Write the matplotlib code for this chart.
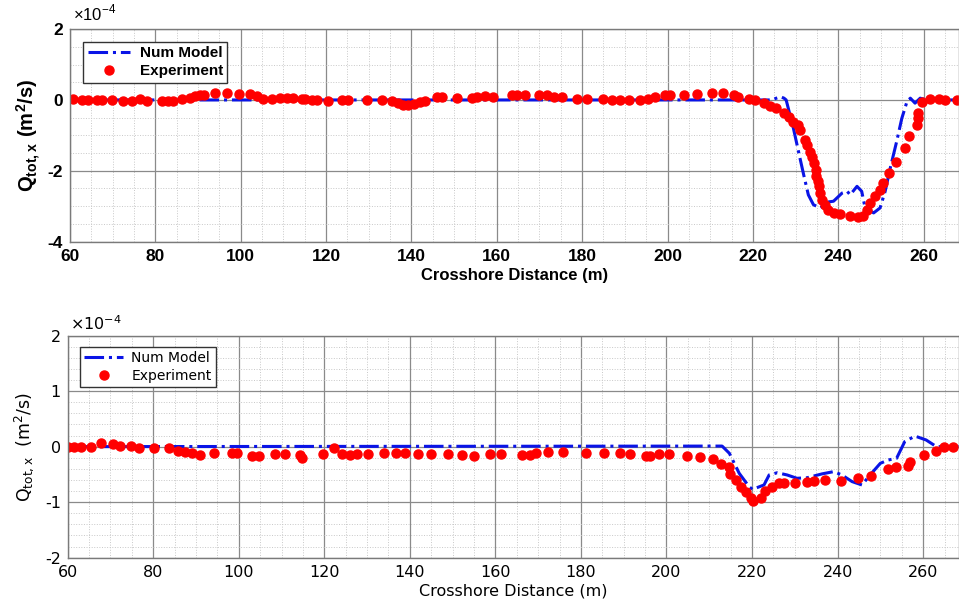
import numpy as np
import matplotlib
matplotlib.use('Agg')
import matplotlib.pyplot as plt
from matplotlib.ticker import MultipleLocator

plt.rcParams['mathtext.fontset'] = 'custom'
plt.rcParams['mathtext.rm'] = 'Liberation Sans'
plt.rcParams['mathtext.bf'] = 'Liberation Sans:bold'
plt.rcParams['mathtext.sf'] = 'DejaVu Sans'
plt.rcParams['axes.unicode_minus'] = False

# values in units of 1e-4 m^2/s
top_exp_x = [60.6, 62.7, 64.3, 66.3, 67.4, 69.8, 72.5, 74.5, 76.4, 78.1, 81.6, 83.0, 84.2,
             86.2, 88.1, 89.3, 90.5, 91.4, 94.0, 96.7, 99.5, 102.2, 103.8, 105.3, 107.3,
             109.2, 110.8, 112.3, 114.3, 115.1, 116.6, 117.8, 120.5, 123.7, 125.2, 129.5,
             133.0, 135.4, 136.9, 138.1, 139.3, 140.5, 142.0, 143.2, 145.9, 147.1, 150.6,
             154.1, 155.3, 157.3, 159.2, 163.5, 164.7, 166.6, 169.8, 171.7, 173.3, 175.2,
             178.8, 181.1, 185.0, 187.0, 188.9, 190.9, 193.6, 195.5, 197.1, 199.5, 200.6,
             203.8, 206.9, 210.4, 213.1, 215.5, 216.6, 219.0, 220.5, 222.5, 224.1, 225.5,
             227.2, 228.4, 229.4, 230.5, 231.1, 232.3, 232.7, 233.3, 233.9, 234.3, 234.7,
             234.9, 235.2, 235.5, 235.8, 236.2, 236.8, 237.7, 238.9, 240.5, 242.8, 244.7,
             245.9, 246.7, 247.5, 248.7, 249.9, 250.6, 252.0, 253.5, 255.7, 256.6, 258.4,
             258.8, 258.8, 259.6, 261.6, 263.5, 265.1, 267.8]
top_exp_y = [0.02, 0.0, 0.0, 0.0, 0.0, 0.0, -0.04, -0.03, 0.02, -0.03, -0.04, -0.04, -0.03,
             0.02, 0.05, 0.1, 0.14, 0.15, 0.2, 0.2, 0.16, 0.16, 0.1, 0.02,
             0.02, 0.06, 0.05, 0.05, 0.02, 0.02, -0.01, 0.01, -0.03, 0.01, 0.01, 0.0,
             0.0, -0.04, -0.1, -0.14, -0.15, -0.12, -0.06, -0.02, 0.08, 0.08, 0.06,
             0.06, 0.08, 0.1, 0.09, 0.13, 0.15, 0.13, 0.13, 0.13, 0.09, 0.07,
             0.03, 0.02, 0.02, 0.01, 0.0, 0.01, 0.01, 0.03, 0.08, 0.14, 0.14,
             0.13, 0.17, 0.21, 0.2, 0.14, 0.08, 0.03, 0.0, -0.09, -0.16, -0.23,
             -0.38, -0.47, -0.61, -0.72, -0.85, -1.13, -1.27, -1.46, -1.60, -1.78, -1.97,
             -2.16, -2.30, -2.44, -2.63, -2.82, -2.96, -3.10, -3.19, -3.22, -3.29, -3.31,
             -3.27, -3.10, -2.91, -2.72, -2.54, -2.35, -2.07, -1.74, -1.36, -1.01, -0.70,
             -0.52, -0.38, -0.05, 0.03, 0.03, 0.0, 0.0]

top_mod_x = [60, 224.5, 225.5, 226.5, 227.3, 227.8, 229.5, 230.7, 231.9, 233.0, 234.2, 235.8,
             237.7, 238.9, 240.9, 242.1, 242.8, 244.4, 245.5, 246.3, 248.3, 249.8, 251.0,
             252.2, 253.7, 254.9, 256.1, 256.9, 258.0, 259.2, 260.8, 268.3]
top_mod_y = [0, 0, 0.05, 0.09, 0.05, 0, -0.8, -1.46, -2.11, -2.68, -2.96, -3.05,
             -2.88, -2.86, -2.63, -2.58, -2.68, -2.44, -2.58, -3.05, -3.19, -3.05, -2.58,
             -1.92, -1.17, -0.52, -0.05, 0.05, -0.09, 0.05, 0.0, 0]

bot_exp_x = [60.0, 61.5, 63.1, 65.4, 67.9, 70.6, 72.3, 74.7, 76.7, 80.2, 83.6, 85.7, 87.4,
             89.1, 91.0, 94.3, 98.5, 99.5, 103.2, 104.7, 108.4, 110.7, 114.2, 114.8, 119.6,
             122.3, 124.1, 126.0, 127.6, 130.3, 133.9, 136.7, 138.8, 141.9, 145.0, 148.9,
             152.2, 155.1, 158.7, 161.3, 166.2, 168.0, 169.5, 172.4, 175.9, 181.2, 185.4,
             189.2, 191.4, 195.1, 196.2, 198.2, 200.7, 204.7, 207.8, 210.9, 212.7, 214.7,
             214.8, 216.2, 217.4, 218.5, 219.7, 220.3, 222.0, 223.0, 224.6, 226.3, 227.4,
             230.0, 232.9, 234.5, 237.0, 240.9, 244.7, 247.8, 251.7, 253.6, 256.4, 256.9,
             260.2, 263.1, 264.8, 266.9]
bot_exp_y = [0.0, 0.0, 0.0, 0.0, 0.06, 0.05, 0.02, 0.02, -0.02, -0.02, -0.02, -0.07, -0.1,
             -0.12, -0.15, -0.12, -0.12, -0.12, -0.17, -0.16, -0.14, -0.14, -0.15, -0.21, -0.13,
             -0.02, -0.14, -0.15, -0.14, -0.14, -0.12, -0.12, -0.12, -0.13, -0.14, -0.14,
             -0.15, -0.16, -0.14, -0.13, -0.15, -0.15, -0.12, -0.1, -0.09, -0.12, -0.12,
             -0.12, -0.13, -0.16, -0.16, -0.14, -0.14, -0.17, -0.18, -0.23, -0.32, -0.36,
             -0.49, -0.6, -0.72, -0.82, -0.93, -0.98, -0.93, -0.8, -0.72, -0.65, -0.65,
             -0.65, -0.64, -0.61, -0.6, -0.62, -0.56, -0.52, -0.4, -0.37, -0.35, -0.28,
             -0.15, -0.08, -0.01, 0.0]

bot_mod_x = [60, 213.0, 214.7, 217.0, 219.3, 220.1, 222.8, 224.0, 225.9, 228.2, 230.5, 232.9,
             236.4, 239.1, 241.0, 243.4, 245.7, 247.6, 250.0, 251.9, 253.8, 255.7, 258.1,
             260.7, 263.1, 268.3]
bot_mod_y = [0, 0.01, -0.12, -0.48, -0.72, -0.77, -0.69, -0.51, -0.47, -0.51, -0.57, -0.56,
             -0.49, -0.45, -0.51, -0.63, -0.69, -0.51, -0.30, -0.24, -0.21, 0.09, 0.19,
             0.12, 0.0, 0]

fig = plt.figure(figsize=(9.59, 6.07), dpi=100)
ax1 = fig.add_axes([0.073, 0.602, 0.927, 0.35])
ax2 = fig.add_axes([0.0706, 0.0812, 0.929, 0.366])


def style(ax, family, weight, ymin, ymax, ymajor, yminor, size):
    ax.set_xlim(60, 268.3)
    ax.set_ylim(ymin, ymax)
    ax.xaxis.set_major_locator(MultipleLocator(20))
    ax.xaxis.set_minor_locator(MultipleLocator(5))
    ax.yaxis.set_major_locator(MultipleLocator(ymajor))
    ax.yaxis.set_minor_locator(MultipleLocator(yminor))
    ax.grid(which='major', color='#8a8a8a', lw=0.9)
    ax.grid(which='minor', color='#c8c8c8', lw=0.7, ls=':')
    ax.set_axisbelow(True)
    ax.tick_params(which='both', direction='in', length=0, pad=5)
    for s in ax.spines.values():
        s.set_color('#7a7a7a')
        s.set_linewidth(1.0)
    for lab in ax.get_xticklabels() + ax.get_yticklabels():
        lab.set_fontfamily(family)
        lab.set_fontweight(weight)
        lab.set_fontsize(size)


# top panel
ax1.plot(top_mod_x, top_mod_y, '-.', color='#0a14e6', lw=2.2, label='Num Model')
ax1.plot(top_exp_x, top_exp_y, 'o', color='#ff0000', ms=6.5, label='Experiment')
style(ax1, 'Liberation Sans', 'bold', -4, 2, 2, 0.5, 12.5)
ax1.set_xlabel('Crosshore Distance (m)', fontfamily='Liberation Sans', fontweight='bold',
               fontsize=12, labelpad=3)
ax1.set_ylabel(r'$\mathbf{Q_{tot,x}}$ $\mathbf{(m^2/s)}$', fontsize=14.5, labelpad=3)
ax1.text(0.003, 1.02, r'$\times10^{-4}$', transform=ax1.transAxes, fontsize=12,
         va='bottom', ha='left')
leg1 = ax1.legend(loc='upper left', bbox_to_anchor=(0.0146, 0.94), fancybox=False,
                  edgecolor='#333333', framealpha=1, handlelength=2.8, handletextpad=0.6,
                  prop={'family': 'Liberation Sans', 'weight': 'bold', 'size': 11},
                  borderpad=0.3, labelspacing=0.25, borderaxespad=0)
leg1.get_frame().set_linewidth(1.0)

# bottom panel
ax2.plot(bot_mod_x, bot_mod_y, '-.', color='#0a14e6', lw=2.2, label='Num Model')
ax2.plot(bot_exp_x, bot_exp_y, 'o', color='#ff0000', ms=6.5, label='Experiment')
style(ax2, 'DejaVu Sans', 'normal', -2, 2, 1, 0.2, 11.5)
ax2.set_xlabel('Crosshore Distance (m)', fontfamily='DejaVu Sans', fontsize=11.5, labelpad=3)
ax2.set_ylabel(r'$\mathsf{Q_{tot,x}}$  $\mathsf{(m^2/s)}$', fontsize=12.5, labelpad=6)
ax2.text(0.003, 1.01, r'$\mathsf{\times10^{-4}}$', transform=ax2.transAxes, fontsize=11.5,
         va='bottom', ha='left')
leg2 = ax2.legend(loc='upper left', bbox_to_anchor=(0.0138, 0.949), fancybox=False,
                  edgecolor='#333333', framealpha=1, handlelength=2.8, handletextpad=0.6,
                  prop={'family': 'DejaVu Sans', 'size': 10},
                  borderpad=0.3, labelspacing=0.25, borderaxespad=0)
leg2.get_frame().set_linewidth(1.0)

fig.savefig('out.png', dpi=100)
